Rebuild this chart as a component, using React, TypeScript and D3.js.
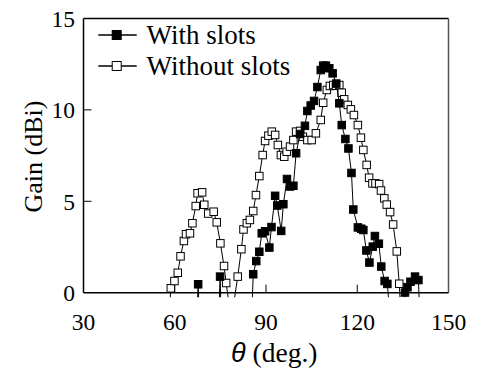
import React from 'react';
import * as d3 from 'd3';

// [theta (deg), gain (dBi)]
const withSlots: [number, number][] = [
  [66.8, -3], [67.7, 0.46], [68.5, -3], [74.2, -3], [74.9, 0.88], [75.6, -3],
  [84.9, -3], [85.8, 1.01], [86.8, 1.73], [87.8, 2.24], [88.6, 3.25], [89.7, 3.36],
  [91.1, 2.47], [91.8, 3.59], [93.0, 5.3], [93.7, 4.77], [95.0, 3.38], [95.7, 4.84],
  [96.9, 6.22], [97.9, 5.81], [99.0, 5.85], [99.9, 7.63], [101.2, 8.68], [102.8, 9.13],
  [103.6, 9.94], [104.7, 10.24], [105.8, 10.49], [106.9, 11.25], [108.0, 12.18], [108.8, 12.42],
  [109.7, 12.42], [110.8, 12.28], [111.9, 12.0], [113.1, 11.44], [114.1, 10.36], [114.9, 9.17],
  [116.1, 8.41], [117.1, 7.89], [118.1, 6.55], [118.7, 4.55], [120.2, 3.57], [121.3, 3.5],
  [122.0, 3.43], [123.0, 2.31], [124.0, 1.65], [125.1, 2.52], [125.8, 3.1], [127.1, 2.68],
  [127.9, 1.43], [129.0, 0.64], [129.9, 0.48], [131.5, -3], [134.8, -3], [135.7, 0.01],
  [136.5, 0.3], [137.5, 0.6], [139.0, 0.88], [140.1, 0.69], [141.0, -3],
];

const withoutSlots: [number, number][] = [
  [57.5, -3], [58.7, 0.24], [59.9, 0.64], [61.0, 1.09], [61.9, 1.99], [63.0, 2.83],
  [63.7, 3.2], [65.0, 3.25], [65.8, 3.8], [66.9, 4.74], [67.5, 5.44], [69.0, 5.49],
  [69.7, 4.81], [71.0, 4.33], [72.8, 4.43], [73.8, 3.85], [75.0, 2.7], [76.2, 1.46],
  [76.9, 0.53], [78.6, -1.5], [80.7, 0.88], [81.9, 2.38], [82.6, 3.46], [83.7, 3.8],
  [84.7, 3.98], [85.8, 4.47], [86.7, 5.34], [87.8, 6.38], [88.9, 7.53], [89.7, 8.3],
  [90.8, 8.59], [91.9, 8.81], [93.0, 8.63], [93.9, 8.08], [94.9, 7.53], [96.0, 7.44],
  [96.8, 7.71], [97.9, 7.99], [99.0, 8.35], [99.9, 8.81], [101.2, 8.85], [102.1, 8.53],
  [103.6, 8.35], [105.0, 8.35], [106.4, 8.72], [108.0, 9.45], [108.8, 10.39], [110.0, 11.09],
  [111.0, 11.31], [112.1, 11.36], [113.0, 11.32], [114.1, 11.36], [114.9, 10.94], [115.7, 10.58],
  [116.9, 10.27], [117.9, 10.03], [118.9, 9.72], [120.2, 9.17], [121.2, 8.48], [122.0, 7.81],
  [123.1, 6.99], [123.9, 6.29], [125.0, 5.98], [126.0, 5.98], [127.2, 5.94], [127.8, 5.59],
  [128.9, 5.16], [129.7, 4.82], [130.8, 4.41], [131.8, 3.73], [133.0, 2.26], [133.8, 0.49],
  [135.0, -3],
];

const xTicks = [30, 60, 90, 120, 150];
const yTicks = [0, 5, 10, 15];
const legendLabels = ['With slots', 'Without slots'];

const W = 478;
const H = 372;
const serif = '"Liberation Serif", "Times New Roman", serif';

export default function App() {
  const x = d3.scaleLinear().domain([30, 150]).range([83.5, 448.5]);
  const y = d3.scaleLinear().domain([0, 15]).range([292.7, 18.5]);

  const line = d3.line<[number, number]>()
    .x(d => x(d[0]))
    .y(d => y(d[1]));

  const ms = 7.5; // marker size

  const drawSeries = (data: [number, number][], fill: string) => (
    <g>
      <path d={line(data) || ''} fill="none" stroke="#000" strokeWidth={1} />
      {data.filter(d => d[1] >= 0).map((d, i) => (
        <rect key={i}
          x={x(d[0]) - ms / 2} y={y(d[1]) - ms / 2}
          width={ms} height={ms}
          fill={fill} stroke="#000" strokeWidth={1} />
      ))}
    </g>
  );

  return (
    <svg width={W} height={H} style={{ position: 'absolute', left: 0, top: 0, background: '#fff' }}>
      <defs>
        <clipPath id="plotClip">
          <rect x={x(30)} y={y(15)} width={x(150) - x(30)} height={y(0) - y(15) + 4.5} />
        </clipPath>
      </defs>

      {/* frame */}
      <line x1={x(30)} x2={x(150)} y1={y(15)} y2={y(15)} stroke="#000" strokeWidth={1.5} />
      <line x1={x(150)} x2={x(150)} y1={y(15)} y2={y(0)} stroke="#555" strokeWidth={1.5} />

      {/* ticks inside */}
      {xTicks.slice(1, -1).map(t => (
        <line key={t} x1={x(t)} x2={x(t)} y1={y(0)} y2={y(0) - 8} stroke="#000" strokeWidth={1} />
      ))}
      {yTicks.slice(1, -1).map(t => (
        <line key={t} x1={x(30)} x2={x(30) + 8} y1={y(t)} y2={y(t)} stroke="#000" strokeWidth={1} />
      ))}

      <g clipPath="url(#plotClip)">
        {drawSeries(withoutSlots, '#fff')}
        {drawSeries(withSlots, '#000')}
      </g>

      <line x1={x(30)} x2={x(30)} y1={y(15)} y2={y(0)} stroke="#000" strokeWidth={1.5} />
      <line x1={x(30)} x2={x(150)} y1={y(0)} y2={y(0)} stroke="#000" strokeWidth={1.5} />

      {/* tick labels */}
      {xTicks.map(t => (
        <text key={t} x={x(t)} y={322} dy="0.35em" textAnchor="middle"
          fontFamily={serif} fontSize={23.5}>{t}</text>
      ))}
      {yTicks.map(t => (
        <text key={t} x={75} y={y(t)} dy="0.35em" textAnchor="end"
          fontFamily={serif} fontSize={23.5}>{t}</text>
      ))}

      {/* axis titles */}
      <text transform={`translate(33,${(y(0) + y(15)) / 2 + 1}) rotate(-90)`} textAnchor="middle"
        dy="0.35em" fontFamily={serif} fontSize={26}>Gain (dBi)</text>
      <text x={231} y={362} textAnchor="start" fontFamily={serif} fontSize={27.5}>
        <tspan fontFamily='"Liberation Sans", Arial, sans-serif' fontStyle="italic" fontSize={27}>θ</tspan>
        <tspan> (deg.)</tspan>
      </text>

      {/* legend */}
      {legendLabels.map((label, i) => {
        const ly = 35 + i * 31;
        return (
          <g key={label}>
            <line x1={98.3} x2={136.7} y1={ly} y2={ly} stroke="#000" strokeWidth={1.5} />
            <rect x={116.7 - 4.5} y={ly - 4.5} width={9} height={9}
              fill={i === 0 ? '#000' : '#fff'} stroke="#000" strokeWidth={1} />
            <text x={146.5} y={ly} dy="0.35em" fontFamily={serif} fontSize={27}>{label}</text>
          </g>
        );
      })}
    </svg>
  );
}
